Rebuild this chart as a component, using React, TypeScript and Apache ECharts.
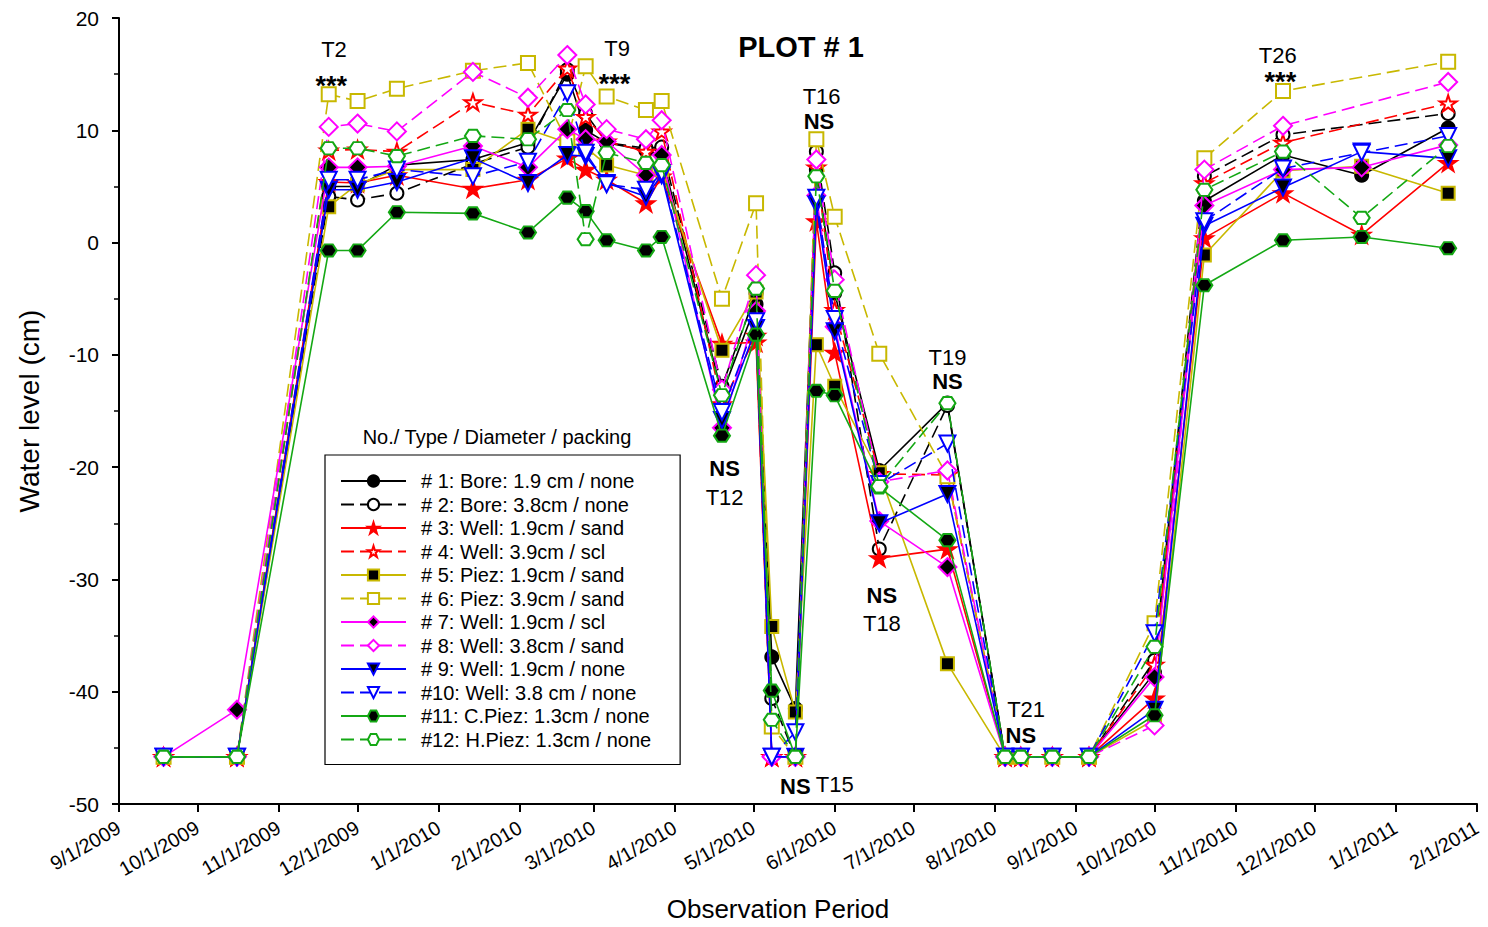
import React, { useEffect, useRef } from 'react';
import * as echarts from 'echarts';

const dates = ['2009-09-18', '2009-10-16', '2009-11-20', '2009-12-01', '2009-12-16', '2010-01-14', '2010-02-04', '2010-02-19', '2010-02-26', '2010-03-06', '2010-03-21', '2010-03-27', '2010-04-19', '2010-05-02', '2010-05-08', '2010-05-17', '2010-05-25', '2010-06-01', '2010-06-18', '2010-07-14', '2010-08-05', '2010-08-11', '2010-08-23', '2010-09-06', '2010-10-01', '2010-10-20', '2010-11-19', '2010-12-19', '2011-01-21'];

const s1 = [-45.8, -45.8, 5.0, 5.0, 6.9, 7.4, 8.9, 15.0, 10.0, 8.9, 8.2, 7.8, -13.5, -5.5, -36.9, -41.5, 6.5, -4.5, -20.3, -14.3, -45.8, -45.8, -45.8, -45.8, -38.3, 3.7, 7.8, 6.0, 10.2];
const s2 = [-45.8, -45.8, 4.1, 3.8, 4.4, 7.0, 8.5, 15.4, 11.5, 8.9, 8.4, 8.5, -12.8, -4.5, -40.6, -45.8, 8.1, -2.7, -27.3, -14.5, -45.8, -45.8, -45.8, -45.8, -37.2, 5.9, 9.6, null, 11.5];
const s3 = [-45.8, -45.8, 5.4, 5.3, 6.0, 4.8, 5.6, 7.5, 6.5, 5.6, 3.5, 5.9, -9.0, -8.9, -45.8, -45.8, 1.9, -9.8, -28.1, -27.3, -45.8, -45.8, -45.8, -45.8, -40.6, 0.4, 4.4, 0.7, 7.1];
const s4 = [-45.8, -45.8, 8.2, 8.3, 8.1, 12.5, 11.4, 15.5, 11.2, 9.0, 8.1, 9.9, -14.4, -8.3, -45.8, -45.8, 6.7, -6.0, -20.6, -20.7, -45.8, -45.8, -45.8, -45.8, -37.6, 5.3, 8.9, null, 12.4];
const s5 = [-45.8, -45.8, 3.2, 5.2, 6.5, 6.5, 10.1, 8.9, 8.5, 6.9, 6.0, 6.5, -9.6, -4.4, -34.2, -41.8, -9.1, -12.8, -20.5, -37.5, -45.8, -45.8, -45.8, -45.8, -42.5, -1.1, 6.4, 6.8, 4.4];
const s6 = [-45.8, -45.8, 13.2, 12.6, 13.7, 15.3, 16.0, 9.0, 15.7, 13.0, 11.8, 12.6, -5.0, 3.5, -43.1, -45.8, 9.2, 2.3, -9.9, -20.8, -45.8, -45.8, -45.8, -45.8, -33.9, 7.5, 13.5, null, 16.1];
const s7 = [-45.8, -41.6, 6.7, 6.7, 6.8, 8.6, 6.7, 10.1, 9.2, 9.0, 6.0, 7.8, -16.5, -6.1, -45.8, -45.8, 4.2, -7.5, -24.8, -28.9, -45.8, -45.8, -45.8, -45.8, -38.7, 3.3, 6.5, 6.7, 8.7];
const s8 = [-45.8, -45.8, 10.3, 10.6, 9.9, 15.2, 12.9, 16.7, 12.3, 10.1, 9.2, 10.9, -13.1, -2.9, -45.8, -45.8, 7.4, -3.3, -21.3, -20.3, -45.8, -45.8, -45.8, -45.8, -43.0, 6.5, 10.4, null, 14.3];
const s9 = [-45.8, -45.8, 4.7, 4.7, 5.4, 7.5, 5.3, 7.8, 7.7, 5.3, 4.1, 6.0, -15.8, -7.6, -45.8, -45.8, 3.4, -7.9, -25.0, -22.4, -45.8, -45.8, -45.8, -45.8, -41.6, 1.5, 4.9, 8.1, 7.5];
const s10 = [-45.8, -45.8, 5.6, 5.6, 6.5, 5.9, 7.2, 13.3, 8.0, 5.2, 4.7, 6.2, -15.1, -7.0, -45.8, -43.6, 4.0, -6.8, -21.5, -17.9, -45.8, -45.8, -45.8, -45.8, -34.8, 1.9, 6.6, 8.0, 9.5];
const s11 = [-45.8, -45.8, -0.7, -0.7, 2.7, 2.6, 0.9, 4.0, 2.8, 0.2, -0.7, 0.5, -17.2, -8.2, -39.9, -45.8, -13.2, -13.6, -21.8, -26.5, -45.8, -45.8, -45.8, -45.8, -42.1, -3.8, 0.2, 0.5, -0.5];
const s12 = [-45.8, -45.8, 8.4, 8.4, 7.7, 9.5, 9.2, 11.8, 0.3, 8.0, 7.1, 6.9, -13.6, -4.1, -42.5, -45.8, 5.9, -4.3, -21.7, -14.3, -45.8, -45.8, -45.8, -45.8, -36.0, 4.7, 8.1, 2.2, 8.6];

const seriesNames = [
  '# 1: Bore: 1.9 cm / none',
  '# 2: Bore: 3.8cm / none',
  '# 3: Well: 1.9cm / sand',
  '# 4: Well: 3.9cm / scl',
  '# 5: Piez: 1.9cm / sand',
  '# 6: Piez: 3.9cm / sand',
  '# 7: Well: 1.9cm / scl',
  '# 8: Well: 3.8cm / sand',
  '# 9: Well: 1.9cm / none',
  '#10: Well: 3.8 cm / none',
  '#11: C.Piez: 1.3cm / none',
  '#12: H.Piez: 1.3cm / none',
];
const seriesValues = [s1, s2, s3, s4, s5, s6, s7, s8, s9, s10, s11, s12];

const xTickLabels = ['9/1/2009', '10/1/2009', '11/1/2009', '12/1/2009', '1/1/2010', '2/1/2010', '3/1/2010', '4/1/2010', '5/1/2010', '6/1/2010', '7/1/2010', '8/1/2010', '9/1/2010', '10/1/2010', '11/1/2010', '12/1/2010', '1/1/2011', '2/1/2011'];

const annDates = ['2009-11-22', '2009-11-21', '2010-03-10', '2010-03-09', '2010-05-27', '2010-05-26', '2010-04-20', '2010-04-20', '2010-05-17', '2010-06-01', '2010-06-19', '2010-06-19', '2010-07-14', '2010-07-14', '2010-08-13', '2010-08-11', '2010-11-17', '2010-11-18'];
const annValues = [17.2, 13.9, 17.3, 14.1, 13.0, 10.8, -20.1, -22.7, -48.4, -48.3, -31.4, -33.9, -10.2, -12.4, -41.6, -43.9, 16.7, 14.3];
const annTexts = ['T2', '***', 'T9', '***', 'T16', 'NS', 'NS', 'T12', 'NS', 'T15', 'NS', 'T18', 'T19', 'NS', 'T21', 'NS', 'T26', '***'];
const annBold = [false, true, false, true, false, true, true, false, true, false, true, false, false, true, false, true, false, true];

const STAR = 'path://M50,0L61.2,34.5L97.6,34.5L68.2,55.9L79.4,90.5L50,69.1L20.6,90.5L31.8,55.9L2.4,34.5L38.8,34.5Z';
const HEX = 'path://M25,0L75,0L100,43.3L75,86.6L25,86.6L0,43.3Z';

const BLACK = '#000000';
const RED = '#FF0000';
const YEL = '#C8B800';
const MAG = '#FF00FF';
const BLUE = '#0000FF';
const GRN = '#14A814';

const styles = [
  { color: BLACK, dash: false, symbol: 'circle', fill: BLACK, size: 13, rot: 0 },
  { color: BLACK, dash: true, symbol: 'circle', fill: '#fff', size: 13, rot: 0 },
  { color: RED, dash: false, symbol: STAR, fill: RED, size: 17, rot: 0 },
  { color: RED, dash: true, symbol: STAR, fill: '#fff', size: 17, rot: 0 },
  { color: YEL, dash: false, symbol: 'rect', fill: BLACK, size: 13, rot: 0 },
  { color: YEL, dash: true, symbol: 'rect', fill: '#fff', size: 14, rot: 0 },
  { color: MAG, dash: false, symbol: 'diamond', fill: BLACK, size: 18, rot: 0 },
  { color: MAG, dash: true, symbol: 'diamond', fill: '#fff', size: 18, rot: 0 },
  { color: BLUE, dash: false, symbol: 'triangle', fill: BLACK, size: 16, rot: 180 },
  { color: BLUE, dash: true, symbol: 'triangle', fill: '#fff', size: 16, rot: 180 },
  { color: GRN, dash: false, symbol: HEX, fill: BLACK, size: 16, rot: 0 },
  { color: GRN, dash: true, symbol: HEX, fill: '#fff', size: 16, rot: 0 },
];

const FONT = 'Liberation Sans, Arial, Helvetica, sans-serif';

function fmtDate(v: number) {
  const d = new Date(v);
  return `${d.getMonth() + 1}/${d.getDate()}/${d.getFullYear()}`;
}
function parseLabel(s: string) {
  const [m, d, y] = s.split('/').map(Number);
  return new Date(y, m - 1, d).getTime();
}
function parseIso(s: string) {
  const [y, m, d] = s.split('-').map(Number);
  return new Date(y, m - 1, d).getTime();
}

export default function App() {
  const ref = useRef<HTMLDivElement>(null);
  useEffect(() => {
    if (!ref.current) return;
    const chart = echarts.init(ref.current, undefined, { renderer: 'svg' });
    const tickValues = xTickLabels.map(parseLabel);
    const xs = dates.map(parseIso);

    const series: any[] = seriesValues.map((vals, i) => {
      const st = styles[i];
      return {
        name: seriesNames[i],
        type: 'line',
        data: xs.map((x, j) => [x, vals[j]]),
        connectNulls: true,
        symbol: st.symbol,
        symbolSize: st.symbol === HEX ? [st.size, st.size * 0.88] : st.size,
        symbolRotate: st.rot,
        symbolKeepAspect: true,
        showAllSymbol: true,
        color: st.color,
        lineStyle: { color: st.color, width: 1.6, type: st.dash ? [13, 6] : 'solid' },
        itemStyle: { color: st.fill, borderColor: st.color, borderWidth: 2 },
        emphasis: { disabled: true },
        z: 2 + i * 0.01,
      };
    });

    series.push({
      name: 'annotations',
      type: 'scatter',
      data: annDates.map((d, i) => ({
        value: [parseIso(d), annValues[i]],
        label: {
          fontWeight: annBold[i] ? 'bold' : 'normal',
          fontSize: annTexts[i] === '***' ? 27 : 22,
        },
      })),
      symbolSize: 2,
      itemStyle: { color: 'rgba(0,0,0,0)' },
      label: {
        show: true,
        position: 'inside',
        color: '#000000',
        textBorderWidth: 0,
        opacity: 1,
        fontSize: 22,
        fontFamily: FONT,
        formatter: (p: any) => annTexts[p.dataIndex],
      },
      emphasis: { disabled: true },
      silent: true,
      clip: false,
      z: 10,
    });

    chart.setOption({
      animation: false,
      textStyle: { fontFamily: FONT },
      grid: { left: 119, right: 11, top: 18, bottom: 121, containLabel: false },
      xAxis: {
        type: 'value',
        min: tickValues[0],
        max: tickValues[tickValues.length - 1],
        name: 'Observation Period',
        nameLocation: 'middle',
        nameGap: 92,
        nameTextStyle: { fontSize: 26, color: '#000', padding: [0, 40, 0, 0] },
        axisLine: { onZero: false, lineStyle: { color: '#000', width: 2 } },
        axisTick: { show: true, customValues: tickValues, length: 8, inside: false, lineStyle: { color: '#000', width: 2 } },
        axisLabel: {
          customValues: tickValues,
          formatter: (v: number) => fmtDate(v),
          rotate: 30,
          fontSize: 20,
          color: '#000',
          margin: 22,
          hideOverlap: false,
          showMinLabel: true,
          showMaxLabel: true,
        },
        splitLine: { show: false },
      },
      yAxis: {
        type: 'value',
        min: -50,
        max: 20,
        interval: 10,
        name: 'Water level (cm)',
        nameLocation: 'middle',
        nameGap: 76,
        nameTextStyle: { fontSize: 28, color: '#000' },
        axisLine: { show: true, onZero: false, lineStyle: { color: '#000', width: 2 } },
        axisTick: { show: true, length: 7, lineStyle: { color: '#000', width: 2 } },
        minorTick: { show: true, splitNumber: 2, length: 5, lineStyle: { color: '#000', width: 1.5 } },
        axisLabel: { fontSize: 21, color: '#000', margin: 20 },
        splitLine: { show: false },
      },
      legend: {
        data: seriesNames,
        orient: 'vertical',
        left: 325,
        top: 455,
        padding: [16, 29, 15, 15],
        itemWidth: 65,
        itemHeight: 14,
        itemGap: 3.5,
        borderColor: '#000',
        borderWidth: 1.2,
        backgroundColor: '#fff',
        selectedMode: false,
        textStyle: { fontSize: 20, color: '#000', lineHeight: 20, padding: [0, 0, 0, 10], fontFamily: FONT },
      },
      graphic: [
        {
          type: 'text',
          x: 801,
          y: 47,
          style: { text: 'PLOT # 1', font: `bold 29px ${FONT}`, fill: '#000', textAlign: 'center', textVerticalAlign: 'middle' },
        },
        {
          type: 'text',
          x: 497,
          y: 437,
          style: { text: 'No./ Type / Diameter / packing', font: `20px ${FONT}`, fill: '#000', textAlign: 'center', textVerticalAlign: 'middle' },
        },
      ],
      series,
    });
    return () => chart.dispose();
  }, []);
  return <div ref={ref} style={{ position: 'absolute', left: 0, top: 0, width: 1488, height: 927, background: '#fff' }} />;
}
